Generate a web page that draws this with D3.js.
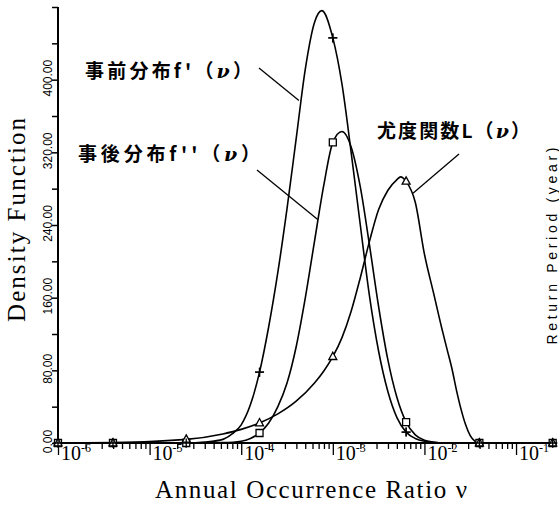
<!DOCTYPE html>
<html>
<head>
<meta charset="utf-8">
<script src="https://cdn.jsdelivr.net/npm/d3@7"></script>
<style>
  html, body { margin: 0; padding: 0; background: #fff; }
  svg { display: block; }
</style>
</head>
<body>
<div id="chart"></div>
<script>
// values; nu given as log10(nu)
const markerLogNu = [-6, -5.4, -4.6, -3.8, -3.0, -2.2, -1.4, -0.6];
const priorMarks = [0, 0, 0, 78, 446, 12, 0, 0];
const posteriorMarks = [0, 0, 0, 11, 331, 23, 0, 0];
const likelihoodMarks = [0, 0, 4, 22, 95, 288, 0, 0];

// prior f'(nu)
const priorLogNu = [-6, -5.4, -4.6, -4.4, -4.2, -4.1, -4.0, -3.9, -3.8, -3.7, -3.6, -3.5, -3.4, -3.3, -3.2, -3.12, -3.0, -2.9, -2.8, -2.7, -2.6, -2.5, -2.4, -2.3, -2.2, -2.1, -2.0, -1.8, -1.4, -0.6];
const priorF = [0, 0, 0, 1, 4, 10, 20, 42, 78, 128, 188, 258, 335, 412, 463, 476, 446, 395, 320, 240, 162, 101, 57, 28, 12, 5, 2, 0, 0, 0];

// posterior f''(nu)
const posteriorLogNu = [-6, -5.4, -4.6, -4.2, -4.0, -3.9, -3.8, -3.7, -3.6, -3.5, -3.4, -3.3, -3.2, -3.1, -3.0, -2.9, -2.8, -2.7, -2.6, -2.5, -2.4, -2.3, -2.2, -2.1, -2.0, -1.9, -1.8, -1.4, -0.6];
const posteriorF = [0, 0, 0, 0.5, 2, 5, 11, 22, 40, 66, 106, 160, 222, 283, 331, 343, 326, 282, 218, 150, 92, 50, 23, 9, 3, 1, 0, 0, 0];

// likelihood L(nu)
const likelihoodLogNu = [-6, -5.4, -4.6, -4.2, -4.0, -3.8, -3.6, -3.4, -3.2, -3.1, -3.0, -2.9, -2.8, -2.7, -2.6, -2.5, -2.4, -2.3, -2.26, -2.2, -2.1, -2.0, -1.9, -1.8, -1.75, -1.7, -1.65, -1.6, -1.55, -1.5, -1.45, -1.4, -1.0, -0.6];
const likelihoodL = [0, 0.5, 4, 10, 15, 22, 32, 46, 66, 79, 95, 116, 145, 182, 222, 257, 278, 290, 293, 288, 265, 208, 165, 122, 102, 82, 58, 37, 20, 8, 2, 0, 0, 0];

const yTicks = [0, 40, 80, 120, 160, 200, 240, 280, 320, 360, 400, 440, 480];
const yLabelMax = 400;
const xDecades = [-6, -5, -4, -3, -2, -1];
const mantissas = [1, 2, 3, 4, 5, 6, 7, 8, 9];

const width = 559;
const height = 508;

const x = d3.scaleLog().domain([1e-6, 0.28]).range([58, 557]);
const y = d3.scaleLinear().domain([0, 480]).range([443, 7]);

const svg = d3.select("#chart")
    .append("svg")
    .attr("width", width)
    .attr("height", height);

// y axis (ticks point left, labels rotated)
const gy = svg.append("g")
    .attr("transform", `translate(${x(1e-6)},0)`)
    .call(d3.axisLeft(y)
        .tickValues(yTicks)
        .tickSize(6)
        .tickSizeOuter(0)
        .tickFormat(d => (d % 80 === 0 && d <= yLabelMax) ? d3.format(".2f")(d) : ""));
gy.select(".domain").remove();
gy.selectAll(".tick line").attr("stroke", "#000").attr("stroke-width", 1.5);
gy.selectAll(".tick text")
    .attr("transform", "rotate(-90)")
    .attr("x", 2)
    .attr("y", -6)
    .attr("dy", 0)
    .attr("text-anchor", "middle")
    .attr("fill", "#000")
    .attr("font-family", "'Liberation Sans', Arial, sans-serif")
    .attr("font-size", 12);

svg.append("line")
    .attr("x1", x(1e-6)).attr("x2", x(1e-6))
    .attr("y1", y(480)).attr("y2", y(0))
    .attr("stroke", "#000").attr("stroke-width", 2);

// x axis, log ticks hanging below
const xTickVals = [];
xDecades.forEach(k => {
    if (k === -1) { xTickVals.push(1e-1); return; }
    mantissas.forEach(m => xTickVals.push(m * Math.pow(10, k)));
});
const isMajor = d => Math.abs(Math.log10(d) - Math.round(Math.log10(d))) < 1e-9;

const gx = svg.append("g")
    .attr("transform", `translate(0,${y(0)})`)
    .call(d3.axisBottom(x).tickValues(xTickVals).tickSize(6).tickSizeOuter(0).tickFormat(""));
gx.select(".domain").remove();
gx.selectAll(".tick line")
    .attr("stroke", "#000")
    .attr("stroke-width", 1.3)
    .attr("y2", d => isMajor(d) ? 12 : 6);

svg.append("line")
    .attr("x1", x(1e-6)).attr("x2", x(0.28))
    .attr("y1", y(0)).attr("y2", y(0))
    .attr("stroke", "#000").attr("stroke-width", 2);

// decade labels 10^k
const xl = svg.append("g")
    .attr("font-family", "'Liberation Serif', 'Times New Roman', serif")
    .attr("fill", "#000");
xDecades.forEach(k => {
    const t = xl.append("text")
        .attr("x", x(Math.pow(10, k)) + 3)
        .attr("y", 460)
        .attr("font-size", 20);
    t.append("tspan").text("10");
    t.append("tspan").attr("dy", -8).attr("font-size", 12).text(String(k));
});

// curves
const line = d3.line()
    .x(d => x(Math.pow(10, d[0])))
    .y(d => y(d[1]))
    .curve(d3.curveMonotoneX);

const series = [
    { logNu: priorLogNu, vals: priorF },
    { logNu: posteriorLogNu, vals: posteriorF },
    { logNu: likelihoodLogNu, vals: likelihoodL }
];
svg.append("g")
    .selectAll("path")
    .data(series)
    .join("path")
    .attr("d", s => line(s.logNu.map((v, i) => [v, s.vals[i]])))
    .attr("fill", "none")
    .attr("stroke", "#000")
    .attr("stroke-width", 1.6);

// markers
const markerSets = [
    { vals: priorMarks, shape: "M-4.5,0H4.5M0,-4.5V4.5", fill: "none" },
    { vals: posteriorMarks, shape: "M-3.5,-3.5H3.5V3.5H-3.5Z", fill: "#fff" },
    { vals: likelihoodMarks, shape: "M0,-4.5L4,2.8H-4Z", fill: "#fff" }
];
markerSets.forEach(ms => {
    svg.append("g")
        .selectAll("path")
        .data(markerLogNu.map((v, i) => [v, ms.vals[i]]))
        .join("path")
        .attr("transform", d => `translate(${x(Math.pow(10, d[0]))},${y(d[1])})`)
        .attr("d", ms.shape)
        .attr("fill", ms.fill)
        .attr("stroke", "#000")
        .attr("stroke-width", 1.3);
});
// plus on top of squares so the overlaps read as boxed crosses
svg.append("g")
    .selectAll("path")
    .data(markerLogNu.map((v, i) => [v, priorMarks[i]]))
    .join("path")
    .attr("transform", d => `translate(${x(Math.pow(10, d[0]))},${y(d[1])})`)
    .attr("d", markerSets[0].shape)
    .attr("fill", "none")
    .attr("stroke", "#000")
    .attr("stroke-width", 1.3);

// labels with pointer lines
const labels = [
    { head: "事前分布f'（", tx: 85, ty: 78, len: 167, lx: 259, ly: 68, logNu: -3.37, v: 377 },
    { head: "事後分布f''（", tx: 78, ty: 161, len: 182, lx: 257, ly: 170, logNu: -3.165, v: 246 },
    { head: "尤度関数L（", tx: 377, ty: 138, len: 153, lx: 459, ly: 154, logNu: -2.125, v: 275 }
];
const gl = svg.append("g");
const lt = gl.selectAll("text")
    .data(labels)
    .join("text")
    .attr("x", d => d.tx)
    .attr("y", d => d.ty)
    .attr("textLength", d => d.len)
    .attr("lengthAdjust", "spacing")
    .attr("font-family", "'Noto Sans CJK JP', 'Noto Sans', sans-serif")
    .attr("font-weight", "bold")
    .attr("font-size", 19)
    .attr("fill", "#000");
lt.append("tspan").text(d => d.head);
lt.append("tspan")
    .attr("font-family", "'DejaVu Serif', serif")
    .attr("font-style", "italic")
    .text("ν");
lt.append("tspan").text("）");

gl.selectAll("line")
    .data(labels)
    .join("line")
    .attr("x1", d => d.lx)
    .attr("y1", d => d.ly)
    .attr("x2", d => x(Math.pow(10, d.logNu)))
    .attr("y2", d => y(d.v))
    .attr("stroke", "#000")
    .attr("stroke-width", 1.3);

// axis titles
svg.append("text")
    .attr("transform", "translate(25,220) rotate(-90)")
    .attr("text-anchor", "middle")
    .attr("textLength", 204)
    .attr("lengthAdjust", "spacing")
    .attr("font-family", "'Liberation Serif', 'Times New Roman', serif")
    .attr("font-size", 25)
    .attr("fill", "#000")
    .text("Density Function");

svg.append("text")
    .attr("x", 155)
    .attr("y", 498)
    .attr("textLength", 312)
    .attr("lengthAdjust", "spacing")
    .attr("font-family", "'Liberation Serif', 'Times New Roman', serif")
    .attr("font-size", 25)
    .attr("fill", "#000")
    .text("Annual Occurrence Ratio ν");

svg.append("text")
    .attr("transform", "translate(557,246) rotate(-90)")
    .attr("text-anchor", "middle")
    .attr("textLength", 197)
    .attr("lengthAdjust", "spacing")
    .attr("font-family", "'Liberation Sans', Arial, sans-serif")
    .attr("font-size", 14)
    .attr("fill", "#000")
    .text("Return Period (year)");
</script>
</body>
</html>
